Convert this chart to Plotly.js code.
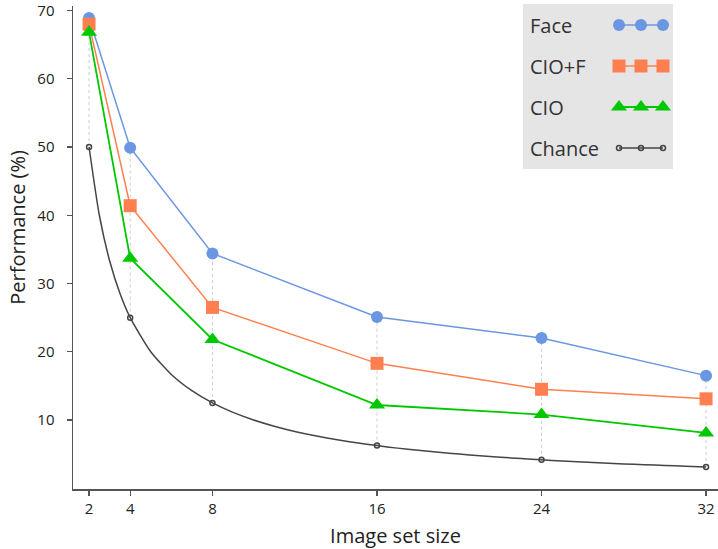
<!DOCTYPE html>
<html>
<head>
<meta charset="utf-8">
<script src="https://cdn.plot.ly/plotly-3.0.1.min.js"></script>
<style>html,body{margin:0;padding:0;background:#fff;}#chart{width:718px;height:549px;}</style>
</head>
<body>
<div id="chart"></div>
<script>
// ---- data ----
var setSizes = [2, 4, 8, 16, 24, 32];
var face   = [68.9, 49.9, 34.4, 25.1, 22.0, 16.5];
var cioF   = [68.0, 41.4, 26.5, 18.3, 14.5, 13.1];
var cio    = [66.8, 33.7, 21.8, 12.2, 10.8, 8.1];
var chance = [50, 25, 12.5, 6.25, 4.17, 3.125];
// chance curve (sampled)
var chanceCurveX = [2, 2.5, 3, 3.5, 4, 5, 6, 7, 8, 9, 10, 11, 12, 13, 14, 15, 16, 17, 18, 19, 20, 21, 22, 23, 24, 25, 26, 27, 28, 29, 30, 31, 32];
var chanceCurveY = [50, 40, 33.33, 28.57, 25, 20, 16.67, 14.29, 12.5, 11.11, 10, 9.09, 8.33, 7.69, 7.14, 6.67, 6.25, 5.88, 5.56, 5.26, 5, 4.76, 4.55, 4.35, 4.17, 4, 3.85, 3.70, 3.57, 3.45, 3.33, 3.23, 3.125];
var seriesNames = ['Face', 'CIO+F', 'CIO', 'Chance'];
var xTicks = [2, 4, 8, 16, 24, 32];
var yTicks = [10, 20, 30, 40, 50, 60, 70];

// ---- styles ----
var FONT = 'Open Sans, Noto Sans, sans-serif';
var cFace = '#6a96e2', cCioF = '#ff7f50', cCio = '#00c800', cChance = '#454545';

// dotted verticals from chance to the top series
var vx = [], vy = [];
for (var i = 0; i < setSizes.length; i++) {
  vx.push(setSizes[i], setSizes[i], null);
  vy.push(chance[i], face[i], null);
}

var styles = [
  {color: cFace, symbol: 'circle', size: 12, lw: 1.5},
  {color: cCioF, symbol: 'square', size: 13, lw: 1.5},
  {color: cCio, symbol: 'triangle-up', size: 14, lw: 1.8},
  {color: cChance, symbol: 'circle-open', size: 5, lw: 1.5}
];

var traces = [
  {x: vx, y: vy, mode: 'lines', line: {color: '#cccccc', width: 1, dash: 'dot'}, hoverinfo: 'skip', showlegend: false},
  {x: chanceCurveX, y: chanceCurveY, mode: 'lines', line: {color: cChance, width: 1.5, shape: 'spline', smoothing: 0.6}, showlegend: false, hoverinfo: 'skip'},
  {x: setSizes, y: chance, mode: 'markers', name: 'Chance', marker: {color: cChance, symbol: 'circle-open', size: 5, line: {width: 1.5, color: cChance}}, showlegend: false},
  {x: setSizes, y: face, mode: 'lines+markers', name: 'Face', line: {color: cFace, width: 1.5}, marker: {color: cFace, symbol: 'circle', size: 12}, showlegend: false},
  {x: setSizes, y: cioF, mode: 'lines+markers', name: 'CIO+F', line: {color: cCioF, width: 1.5}, marker: {color: cCioF, symbol: 'square', size: 13}, showlegend: false},
  {x: setSizes, y: cio, mode: 'lines+markers', name: 'CIO', line: {color: cCio, width: 1.8}, marker: {color: cCio, symbol: 'triangle-up', size: 14}, showlegend: false}
];

// ---- manual legend (text left, sample right) on an auxiliary axis pair ----
var legendRows = [19, 60, 101, 142];
var sampleX = [96, 118, 140];
var annotations = [];
for (var k = 0; k < seriesNames.length; k++) {
  var s = styles[k];
  var ry = legendRows[k];
  traces.push({
    x: sampleX, y: [ry, ry, ry], xaxis: 'x2', yaxis: 'y2', mode: 'lines+markers',
    line: {color: s.color, width: s.lw},
    marker: s.symbol === 'circle-open' ? {color: s.color, symbol: s.symbol, size: s.size, line: {width: 1.5, color: s.color}} : {color: s.color, symbol: s.symbol, size: s.size},
    showlegend: false, hoverinfo: 'skip'
  });
  annotations.push({x: 5, y: ry, xref: 'x2', yref: 'y2', text: seriesNames[k], showarrow: false,
    xanchor: 'left', yanchor: 'middle', font: {family: FONT, size: 20, color: '#333'}});
}
// y-axis title as annotation (offset upward as in the reference)
annotations.push({x: 0, y: 0.541, xref: 'paper', yref: 'paper', xshift: -55, text: 'Performance (%)', textangle: -90,
  showarrow: false, xanchor: 'center', yanchor: 'middle', font: {family: FONT, size: 20, color: '#222'}});

var layout = {
  width: 718, height: 549,
  margin: {l: 73, r: 0, t: 6, b: 60},
  paper_bgcolor: '#fff', plot_bgcolor: 'rgba(0,0,0,0)',
  font: {family: FONT, color: '#222'},
  showlegend: false,
  xaxis: {
    range: [1.22, 32.58], tickvals: xTicks, ticktext: xTicks.map(String),
    showgrid: false, zeroline: false, showline: true, linecolor: '#555', linewidth: 1.5,
    ticks: 'outside', ticklen: 5, tickwidth: 1.2, tickcolor: '#555',
    tickfont: {family: FONT, size: 15, color: '#222'}, ticklabeloverflow: 'allow',
    title: {text: 'Image set size', font: {family: FONT, size: 20, color: '#222'}, standoff: 12}
  },
  yaxis: {
    range: [-0.11, 70.66], tickvals: yTicks, ticktext: yTicks.map(String),
    showgrid: false, zeroline: false, showline: true, linecolor: '#555', linewidth: 1.5,
    ticks: 'outside', ticklen: 5, tickwidth: 1.2, tickcolor: '#555',
    tickfont: {family: FONT, size: 15, color: '#222'}, ticklabelstandoff: 9, ticklabeloverflow: 'allow'
  },
  xaxis2: {domain: [0.6977, 0.9302], range: [0, 150], anchor: 'y2', visible: false, fixedrange: true},
  yaxis2: {domain: [0.6625, 1.0], range: [163, 0], anchor: 'x2', visible: false, fixedrange: true},
  shapes: [{type: 'rect', xref: 'paper', yref: 'paper', x0: 0.6977, x1: 0.9302, y0: 0.6625, y1: 1.0041, fillcolor: '#e5e5e5', line: {width: 0}, layer: 'below'}],
  annotations: annotations
};

Plotly.newPlot('chart', traces, layout, {displayModeBar: false, staticPlot: true});
</script>
</body>
</html>
